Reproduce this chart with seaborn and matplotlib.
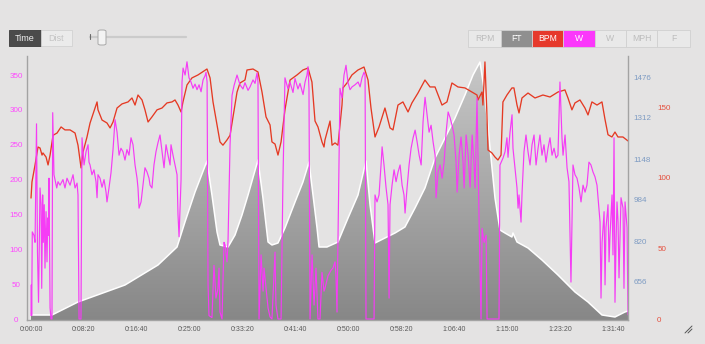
import numpy as np
import pandas as pd
import matplotlib
matplotlib.use("Agg")
import matplotlib.pyplot as plt
from matplotlib.patches import FancyBboxPatch
from matplotlib.lines import Line2D
from matplotlib.ticker import FixedLocator, FuncFormatter
from matplotlib.colors import LinearSegmentedColormap
import seaborn as sns

# ---- ride data (time in seconds) ----
elev_t = [0, 198, 444, 888, 1200, 1380, 1455, 1550, 1663, 1710, 1758, 1786, 1862,
          1928, 1994, 2051, 2145, 2192, 2240, 2277, 2334, 2400, 2495, 2570, 2627,
          2665, 2703, 2722, 2797, 2901, 2996, 3090, 3166, 3204, 3251, 3345, 3440,
          3534, 3629, 3723, 3818, 3912, 4007, 4101, 4177, 4243, 4290, 4338, 4385,
          4432, 4479, 4545, 4555, 4593, 4697, 4829, 4980, 5141, 5264, 5396, 5519,
          5613, 5642]
elev_ft = [524, 524, 576, 644, 724, 796, 896, 1016, 1140, 1004, 856, 804, 796,
           844, 924, 1004, 1144, 992, 816, 804, 812, 872, 976, 1056, 1136,
           1004, 872, 796, 796, 816, 912, 1004, 1140, 964, 812, 832, 852,
           876, 952, 1032, 1152, 1232, 1312, 1404, 1484, 1536, 1404, 1192, 992,
           864, 852, 836, 852, 816, 792, 744, 684, 616, 576, 524, 516,
           536, 540]

hr_t = [0, 9, 38, 66, 85, 104, 113, 142, 161, 180, 208, 246, 284, 321, 369, 416,
        444, 473, 491, 529, 558, 605, 624, 633, 671, 718, 747, 775, 813, 860, 917,
        954, 983, 1011, 1049, 1077, 1106, 1143, 1191, 1238, 1285, 1332, 1361, 1389,
        1418, 1436, 1474, 1521, 1578, 1663, 1692, 1720, 1758, 1786, 1814, 1852,
        1881, 1909, 1947, 1975, 2022, 2041, 2098, 2145, 2183, 2221, 2259, 2277,
        2306, 2334, 2363, 2400, 2448, 2514, 2570, 2618, 2655, 2684, 2712, 2750,
        2769, 2778, 2826, 2845, 2873, 2901, 2939, 2948, 2986, 3033, 3090, 3147,
        3185, 3213, 3251, 3289, 3345, 3393, 3421, 3468, 3515, 3563, 3600, 3657,
        3723, 3771, 3818, 3884, 3931, 3978, 4035, 4101, 4167, 4215, 4224, 4262,
        4271, 4290, 4309, 4319, 4356, 4385, 4413, 4442, 4460, 4498, 4545, 4564,
        4593, 4612, 4640, 4697, 4763, 4838, 4905, 4980, 5046, 5075, 5112, 5141,
        5188, 5235, 5264, 5301, 5349, 5396, 5424, 5453, 5490, 5519, 5547, 5594,
        5642]
hr_bpm = [85.6, 97, 109, 121.7, 121, 116, 117.5, 114.6, 109, 116, 130, 131.6,
          135.9, 133.8, 133.8, 131.6, 123, 106.9, 118, 128.8, 138.7, 149.3, 153.6,
          148, 140.8, 138.7, 135.2, 139.4, 149.3, 152.2, 153.6, 156.4, 151.4,
          158.5, 155, 148, 139.4, 143, 148, 149.3, 152.9, 153.6, 155, 151.4,
          146.5, 153.6, 165.6, 170.6, 172.7, 176.9, 170.6, 153.6, 137.3, 125.3,
          123, 126.7, 130, 143, 160.6, 167, 169.1, 176.2, 176.9, 174.8, 160.6,
          143, 137.3, 125.3, 123.8, 116, 125.3, 148, 169.1, 172.7, 176.2, 177.6,
          167.7, 140.1, 135.9, 125.3, 121.7, 126.7, 140.1, 123, 124.6, 123,
          151.4, 163.5, 167, 172.7, 176.2, 178.3, 169.1, 149.3, 128.8, 135.9,
          149.3, 135.2, 133.8, 151.4, 153.6, 146.5, 152.9, 159.9, 169.1, 164.2,
          164.2, 151.4, 153.6, 167, 164.2, 163.5, 160.6, 158.5, 155, 160.6,
          151.4, 181.9, 144.4, 119.6, 117.5, 114.6, 112.5, 116, 153.6, 158.5,
          163.5, 163.5, 151.4, 145.8, 156.4, 159.9, 156.4, 158.5, 157.1, 160.6,
          162.1, 156.4, 148, 152.9, 155, 149.3, 144.4, 153.6, 151.4, 153.6,
          141.5, 130.4, 128.8, 132.3, 128.8, 128.8, 126]

power_t = [0, 3, 6, 12, 28, 38, 52, 61, 71, 85, 95, 101, 110, 116, 125, 132, 142,
           151, 158, 164, 170, 180, 189, 198, 205, 217, 243, 255, 274, 302, 321,
           340, 369, 397, 416, 435, 444, 454, 472, 482, 501, 520, 539, 548, 558,
           576, 595, 614, 624, 633, 652, 671, 690, 709, 718, 737, 756, 775, 794,
           813, 832, 850, 869, 888, 907, 926, 945, 964, 983, 1002, 1011, 1021,
           1040, 1058, 1077, 1096, 1115, 1125, 1143, 1162, 1181, 1200, 1219, 1238,
           1257, 1276, 1295, 1314, 1323, 1342, 1361, 1380, 1389, 1399, 1418, 1427,
           1437, 1456, 1474, 1493, 1512, 1531, 1550, 1569, 1588, 1607, 1626, 1645,
           1654, 1664, 1673, 1682, 1710, 1729, 1748, 1767, 1777, 1786, 1805, 1824,
           1834, 1852, 1862, 1881, 1900, 1919, 1947, 1975, 2003, 2022, 2051, 2070,
           2098, 2117, 2136, 2145, 2155, 2174, 2193, 2202, 2221, 2240, 2259, 2277,
           2306, 2315, 2334, 2363, 2381, 2400, 2429, 2447, 2476, 2495, 2523, 2542,
           2571, 2590, 2608, 2618, 2627, 2637, 2656, 2675, 2693, 2712, 2731, 2750,
           2769, 2778, 2807, 2835, 2854, 2873, 2882, 2892, 2901, 2920, 2939, 2958,
           2977, 2996, 3015, 3034, 3062, 3091, 3110, 3128, 3147, 3157, 3166, 3242,
           3251, 3270, 3289, 3308, 3318, 3336, 3355, 3374, 3384, 3393, 3412, 3431,
           3450, 3469, 3488, 3507, 3525, 3535, 3554, 3573, 3592, 3611, 3630, 3649,
           3668, 3687, 3705, 3715, 3724, 3743, 3762, 3781, 3800, 3819, 3828, 3847,
           3866, 3885, 3904, 3923, 3942, 3960, 3979, 3998, 4017, 4027, 4046, 4064,
           4083, 4093, 4112, 4131, 4150, 4169, 4187, 4197, 4215, 4225, 4235, 4253,
           4263, 4282, 4301, 4310, 4423, 4432, 4461, 4480, 4498, 4508, 4527, 4546,
           4555, 4574, 4593, 4603, 4612, 4631, 4641, 4659, 4678, 4697, 4716, 4735,
           4754, 4773, 4792, 4810, 4829, 4848, 4867, 4886, 4905, 4924, 4943, 4962,
           4980, 4999, 5018, 5028, 5047, 5066, 5084, 5103, 5122, 5141, 5160, 5179,
           5198, 5217, 5236, 5254, 5273, 5292, 5311, 5330, 5349, 5359, 5378, 5387,
           5397, 5416, 5425, 5434, 5453, 5463, 5472, 5491, 5500, 5510, 5519, 5529,
           5538, 5548, 5557, 5576, 5595, 5604, 5614, 5633, 5642]
power_w = [5, 49, 5, 125, 120, 110, 280, 96, 24, 188, 165, 44, 178, 110, 164, 73, 154,
           82, 145, 120, 202, 16, 0, 0, 296, 207, 188, 197, 192, 200, 188,
           202, 192, 207, 188, 195, 178, 0, 0, 260, 221, 240, 250, 225, 221,
           207, 214, 197, 174, 207, 202, 189, 200, 182, 168, 188, 210, 243, 286,
           268, 235, 245, 240, 228, 243, 235, 260, 250, 221, 202, 188, 159,
           168, 192, 217, 211, 202, 192, 188, 221, 240, 253, 264, 240,
           217, 250, 235, 221, 250, 235, 221, 207, 150, 118, 200, 340,
           360, 350, 369, 346, 340, 331, 337, 329, 336, 326, 343, 349,
           354, 340, 50, 5, 2, 77, 30, 44, 73, 10, 0, 110,
           106, 82, 113, 250, 321, 335, 350, 336, 330, 339, 328, 333,
           343, 338, 353, 340, 0, 92, 40, 73, 44, 16, 3, 0,
           96, 20, 0, 0, 200, 346, 330, 340, 325, 345, 330, 338,
           322, 340, 350, 362, 330, 0, 92, 20, 73, 0, 0, 67,
           40, 44, 62, 70, 73, 82, 63, 10, 110, 331, 317, 350,
           364, 339, 329, 333, 336, 340, 333, 346, 354, 350, 0, 0,
           178, 168, 178, 221, 247, 221, 189, 164, 30, 164, 192, 214,
           197, 211, 221, 192, 178, 152, 188, 221, 245, 260, 271, 254,
           235, 221, 283, 303, 318, 293, 268, 278, 254, 235, 174, 211,
           221, 202, 225, 268, 297, 289, 278, 264, 225, 182, 235, 261,
           225, 188, 264, 235, 189, 264, 221, 188, 317, 228, 139, 0,
           130, 110, 120, 0, 0, 221, 231, 240, 260, 232, 268, 293,
           245, 217, 188, 159, 178, 139, 182, 240, 264, 240, 221, 250,
           264, 221, 245, 264, 235, 250, 225, 245, 260, 235, 245, 231,
           235, 340, 260, 235, 264, 217, 197, 53, 221, 207, 202, 188,
           168, 192, 182, 192, 225, 221, 211, 204, 192, 174, 139, 30,
           110, 154, 49, 131, 164, 82, 120, 178, 92, 260, 24, 110,
           168, 139, 59, 174, 159, 44, 168, 131, 6]

time_ticks = [0, 500, 1000, 1500, 2000, 2500, 3000, 3500, 4000, 4500, 5000, 5500]
power_ticks = [0, 50, 100, 150, 200, 250, 300, 350]
ft_ticks = [656, 820, 984, 1148, 1312, 1476]
bpm_ticks = [0, 50, 100, 150]

buttons = ["RPM", "FT", "BPM", "W", "W", "MPH", "F"]

# ---- styling ----
sns.set_theme(style="white")
plt.rcParams['font.family'] = ['Liberation Sans', 'DejaVu Sans']

BG = "#e4e3e3"
MAGENTA = "#f53cf5"
RED = "#e43a24"
W_PX, H_PX = 705, 344

fig = plt.figure(figsize=(7.05, 3.44), dpi=100, facecolor=BG)


def fx(px):
    return px / W_PX


def fy(py):
    return 1 - py / H_PX


rect = [fx(27), fy(320), fx(628) - fx(27), fy(56) - fy(320)]
ax_ft = fig.add_axes(rect)
ax_bpm = ax_ft.twinx()
ax = ax_ft.twinx()
for a in (ax_ft, ax_bpm, ax):
    a.patch.set_visible(False)

xlim = (-38, 5642)

# elevation: gradient area with a white outline
ax_ft.set_xlim(*xlim)
ax_ft.set_ylim(504, 1560)
grad_cmap = LinearSegmentedColormap.from_list("elev", ["#878787", "#c9c9c9"])
grad = np.linspace(0, 1, 256).reshape(-1, 1)
im = ax_ft.imshow(grad, extent=[xlim[0], xlim[1], 504, 1560], origin="lower",
                  aspect="auto", cmap=grad_cmap, zorder=1)
poly = ax_ft.fill_between(elev_t, elev_ft, 504, color="none", lw=0)
im.set_clip_path(poly.get_paths()[0], transform=ax_ft.transData)
elev_df = pd.DataFrame({"t": elev_t, "ft": elev_ft})
sns.lineplot(data=elev_df, x="t", y="ft", ax=ax_ft, color="white", lw=1.1,
             estimator=None, sort=False, zorder=2)
ax_ft.set_xlim(*xlim)
ax_ft.set_ylim(504, 1560)

# heart rate
hr_df = pd.DataFrame({"t": hr_t, "bpm": hr_bpm})
sns.lineplot(data=hr_df, x="t", y="bpm", ax=ax_bpm, color=RED, lw=0.95,
             estimator=None, sort=False)
ax_bpm.set_ylim(-0.7, 186.1)
ax_bpm.set_xlim(*xlim)

# power
pw_df = pd.DataFrame({"t": power_t, "w": power_w})
sns.lineplot(data=pw_df, x="t", y="w", ax=ax, color=MAGENTA, lw=0.85,
             estimator=None, sort=False)
ax.set_ylim(-1.4, 377.3)
ax.set_xlim(*xlim)

for a in (ax_ft, ax_bpm, ax):
    a.set_xlabel("")
    a.set_ylabel("")
    for s in a.spines.values():
        s.set_visible(False)

# power axis on the left, labels centred under the axis line
ax.yaxis.set_label_position("left")
ax.yaxis.tick_left()
ax.yaxis.set_major_locator(FixedLocator(power_ticks))
ax.tick_params(axis="y", left=False, right=False, labelleft=True, labelright=False,
               length=0, pad=7.9, labelsize=5.8, labelcolor="#ff48ff")
for lab in ax.get_yticklabels():
    lab.set_horizontalalignment("center")

# time axis
ax_ft.xaxis.set_major_locator(FixedLocator(time_ticks))
ax_ft.xaxis.set_major_formatter(FuncFormatter(
    lambda v, _: f"{int(v) // 3600}:{int(v) % 3600 // 60:02d}:{int(v) % 60:02d}"))
ax_ft.tick_params(axis="x", length=0, pad=4.6, labelsize=5, labelcolor="#5a5a5a")
ax.tick_params(axis="x", bottom=False, labelbottom=False)
ax_bpm.tick_params(axis="x", bottom=False, labelbottom=False)

# elevation labels on the right
ax_ft.yaxis.set_major_locator(FixedLocator(ft_ticks))
ax_ft.tick_params(axis="y", left=False, labelleft=False, right=True, labelright=True,
                  length=0, pad=3.8, labelsize=5.8, labelcolor="#7d9bc3")

# heart-rate labels further right
ax_bpm.yaxis.set_major_locator(FixedLocator(bpm_ticks))
ax_bpm.tick_params(axis="y", left=False, labelleft=False, right=True, labelright=True,
                   length=0, pad=21, labelsize=5.8, labelcolor="#e4503e")

# frame lines
for side in ("left", "right", "bottom"):
    ax.spines[side].set_visible(True)
    ax.spines[side].set_color("#a3a3a3")
    ax.spines[side].set_linewidth(1.0)


# ---- toolbar ----
def box(x0, y0, x1, y1, fc, ec, z=5):
    p = FancyBboxPatch((fx(x0), fy(y1)), fx(x1) - fx(x0), fy(y0) - fy(y1),
                       boxstyle="square,pad=0", transform=fig.transFigure,
                       fc=fc, ec=ec, lw=0.6, zorder=z)
    fig.add_artist(p)


def label(x, y, s, color, size=6.3):
    fig.text(fx(x), fy(y), s, ha="center", va="center", fontsize=size,
             color=color, zorder=8)


box(9, 30, 41, 46, "#4b4b4b", "#3a3a3a")
label(25, 38.5, "Time", "#f0f0f0", 6.5)
box(41, 30, 72, 46, "#ebebeb", "#d2d2d2")
label(56.5, 38.5, "Dist", "#c4c4c4", 6.5)

fig.add_artist(Line2D([fx(90), fx(186)], [fy(36.5), fy(36.5)], color="#cbcbcb",
                      lw=1.6, transform=fig.transFigure))
fig.add_artist(Line2D([fx(90), fx(90)], [fy(34), fy(39)], color="#6a6a6a",
                      lw=0.8, transform=fig.transFigure))
fig.add_artist(FancyBboxPatch((fx(98), fy(45)), fx(106) - fx(98), fy(30) - fy(45),
                              boxstyle="round,pad=0,rounding_size=0.004",
                              transform=fig.transFigure, fc="#f3f3f3", ec="#a8a8a8",
                              lw=0.7, zorder=6))

edges = [468, 501, 532, 563, 595, 626, 657, 690]
active = {1: "#8f8f8f", 2: "#e6392b", 3: "#fb38fb"}
for i, name in enumerate(buttons):
    fc = active.get(i, "#e9e9e9")
    tc = "white" if i in active else "#bdbdbd"
    box(edges[i], 30, edges[i + 1], 46.5, fc, "#d0d0d0")
    label((edges[i] + edges[i + 1]) / 2, 38.5, name, tc, 6.2)

# resize grip
for k in range(2):
    fig.add_artist(Line2D([fx(685 + 3 * k), fx(692)], [fy(333), fy(326 + 3 * k)],
                          color="#555555", lw=0.7, transform=fig.transFigure))

fig.savefig("out.png", dpi=100, facecolor=BG)
